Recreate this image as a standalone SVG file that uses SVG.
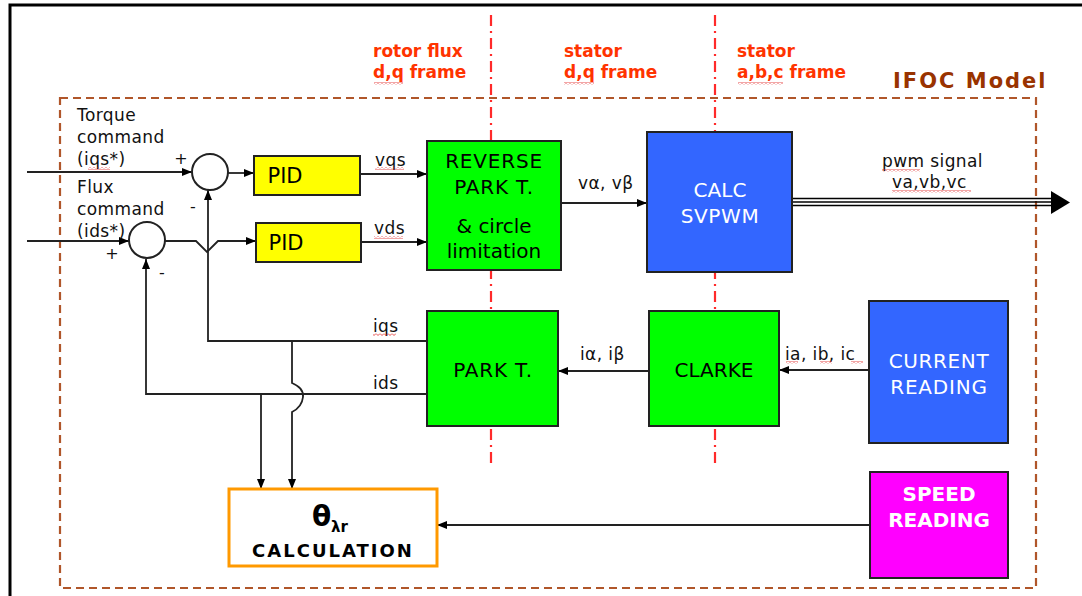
<svg xmlns="http://www.w3.org/2000/svg" width="1082" height="596" viewBox="0 0 1082 596">
<defs>
<marker id="ah" markerWidth="10" markerHeight="8" refX="10" refY="4" orient="auto" markerUnits="userSpaceOnUse">
<path d="M0,0 L10,4 L0,8 Z" fill="#000"/>
</marker>
<pattern id="wave" width="4" height="3" patternUnits="userSpaceOnUse">
<path d="M0,0.5 L2,2.5 L4,0.5" stroke="#E02020" stroke-width="0.8" fill="none"/>
</pattern>
<style>
.lbl{font-family:"DejaVu Sans",Verdana,sans-serif;font-size:17px;fill:#111;letter-spacing:0.4px}
.box{stroke:#222;stroke-width:2}
.bt{font-family:"DejaVu Sans",Verdana,sans-serif;font-size:20px;text-anchor:middle;fill:#000}
.wt{fill:#fff}
.conn{stroke:#222;stroke-width:1.8;fill:none}
.frame{font-family:"DejaVu Sans",Verdana,sans-serif;font-size:17px;font-weight:bold;fill:#FF3300}
.sq{fill:url(#wave)}
.sign{font-family:"DejaVu Sans",Verdana,sans-serif;font-size:16px;fill:#111;text-anchor:middle}
</style>
</defs>
<rect width="1082" height="596" fill="#fff"/>
<path d="M10,596 V5 H1082" stroke="#000" stroke-width="3" fill="none"/>

<!-- IFOC dashed frame -->
<g id="ifoc-frame">
<rect x="60" y="98" width="976" height="490" fill="none" stroke="#B0562A" stroke-width="2.2" stroke-dasharray="8,5"/>
<text x="893" y="88" style="font-family:'DejaVu Sans',Verdana,sans-serif;font-size:21px;font-weight:bold;fill:#993300;letter-spacing:2px">IFOC Model</text>
</g>

<!-- frame separators -->
<g id="separators" stroke="#FF2A2A" stroke-width="2.2" stroke-dasharray="11,5,2,5" fill="none">
<line x1="491" y1="15" x2="491" y2="466"/>
<line x1="715" y1="15" x2="715" y2="466"/>
</g>
<g id="frame-labels">
<text class="frame" x="373" y="57">rotor flux</text>
<text class="frame" x="373" y="78">d,q frame</text>
<text class="frame" x="564" y="57">stator</text>
<text class="frame" x="564" y="78">d,q frame</text>
<text class="frame" x="737" y="57">stator</text>
<text class="frame" x="737" y="78">a,b,c frame</text>
<rect class="sq" x="374" y="82" width="29" height="3"/>
<rect class="sq" x="564" y="82" width="30" height="3"/>
<rect class="sq" x="738" y="82" width="45" height="3"/>
</g>

<!-- connectors -->
<g id="connectors">
<line class="conn" x1="27" y1="172" x2="192" y2="172" marker-end="url(#ah)"/>
<line class="conn" x1="27" y1="241" x2="129" y2="241" marker-end="url(#ah)"/>
<line class="conn" x1="228" y1="173" x2="254" y2="173" marker-end="url(#ah)"/>
<path class="conn" d="M165,241 H196 L207,252 L218,241 H256" marker-end="url(#ah)"/>
<line class="conn" x1="360" y1="174" x2="427" y2="174" marker-end="url(#ah)"/>
<line class="conn" x1="361" y1="242" x2="427" y2="242" marker-end="url(#ah)"/>
<line class="conn" x1="561" y1="203" x2="647" y2="203" marker-end="url(#ah)"/>
<g stroke="#000" stroke-width="1.6">
<line x1="793" y1="198.5" x2="1053" y2="198.5"/>
<line x1="793" y1="202" x2="1053" y2="202"/>
<line x1="793" y1="205.5" x2="1053" y2="205.5"/>
</g>
<path d="M1051,191 L1070,202.5 L1051,214 Z" fill="#000"/>
<path class="conn" d="M427,341 H208 V190" marker-end="url(#ah)"/>
<path class="conn" d="M427,394 H146 V259" marker-end="url(#ah)"/>
<path class="conn" d="M261,394 V489" marker-end="url(#ah)"/>
<path class="conn" d="M292,341 V383 Q304,388 303,397 Q302,407 292,412 V489" marker-end="url(#ah)"/>
<line class="conn" x1="649" y1="371" x2="558" y2="371" marker-end="url(#ah)"/>
<line class="conn" x1="869" y1="370" x2="779" y2="370" marker-end="url(#ah)"/>
<line class="conn" x1="870" y1="525" x2="437" y2="525" marker-end="url(#ah)"/>
</g>

<!-- connector labels -->
<g id="labels">
<text class="lbl" x="77" y="121">Torque</text>
<text class="lbl" x="77" y="143">command</text>
<text class="lbl" x="77" y="165">(iqs*)</text>
<rect class="sq" x="88" y="167" width="22" height="3"/>
<text class="lbl" x="77" y="193">Flux</text>
<text class="lbl" x="77" y="215">command</text>
<text class="lbl" x="77" y="237">(ids*)</text>
<text class="sign" x="181" y="164">+</text>
<text class="sign" x="193" y="212">-</text>
<text class="sign" x="112" y="259">+</text>
<text class="sign" x="162" y="278">-</text>
<text class="lbl" x="375" y="166">vqs</text>
<rect class="sq" x="375" y="167" width="29" height="3"/>
<text class="lbl" x="374" y="234">vds</text>
<rect class="sq" x="374" y="236" width="29" height="3"/>
<text class="lbl" x="578" y="189">vα, vβ</text>
<text class="lbl" x="882" y="167">pwm signal</text>
<rect class="sq" x="882" y="169" width="38" height="3"/>
<text class="lbl" x="892" y="188">va,vb,vc</text>
<rect class="sq" x="892" y="190" width="79" height="3"/>
<text class="lbl" x="373" y="332">iqs</text>
<rect class="sq" x="373" y="333" width="23" height="3"/>
<text class="lbl" x="373" y="389">ids</text>
<text class="lbl" x="580" y="360">iα, iβ</text>
<text class="lbl" x="785" y="360">ia, ib, ic</text>
<rect class="sq" x="786" y="361" width="12" height="3"/>
<rect class="sq" x="820" y="361" width="12" height="3"/>
<rect class="sq" x="851" y="361" width="12" height="3"/>
</g>

<!-- nodes -->
<g id="sum-torque"><circle cx="210" cy="172" r="18" fill="#fff" stroke="#222" stroke-width="2"/></g>
<g id="sum-flux"><circle cx="147" cy="240" r="18" fill="#fff" stroke="#222" stroke-width="2"/></g>
<g id="pid-q">
<rect class="box" x="254" y="156" width="106" height="39" fill="#FFFF00"/>
<text class="bt" x="285" y="183" style="font-size:21px">PID</text>
</g>
<g id="pid-d">
<rect class="box" x="256" y="223" width="105" height="39" fill="#FFFF00"/>
<text class="bt" x="286" y="250" style="font-size:21px">PID</text>
</g>
<g id="reverse-park">
<rect class="box" x="427" y="141" width="134" height="129" fill="#00FF00"/>
<text class="bt" x="494" y="168" style="letter-spacing:0.8px">REVERSE</text>
<text class="bt" x="494" y="194" style="letter-spacing:0.8px">PARK T.</text>
<text class="bt" x="494" y="233">&amp; circle</text>
<text class="bt" x="494" y="258">limitation</text>
</g>
<g id="svpwm">
<rect class="box" x="647" y="132" width="145" height="140" fill="#3366FF"/>
<text class="bt wt" x="720" y="197">CALC</text>
<text class="bt wt" x="720" y="223" style="letter-spacing:0.6px">SVPWM</text>
</g>
<g id="park">
<rect class="box" x="427" y="311" width="131" height="115" fill="#00FF00"/>
<text class="bt" x="493" y="377" style="letter-spacing:0.8px">PARK T.</text>
</g>
<g id="clarke">
<rect class="box" x="649" y="311" width="130" height="115" fill="#00FF00"/>
<text class="bt" x="714" y="377">CLARKE</text>
</g>
<g id="current-reading">
<rect class="box" x="869" y="301" width="139" height="142" fill="#3366FF"/>
<text class="bt wt" x="939" y="368" style="letter-spacing:0.6px">CURRENT</text>
<text class="bt wt" x="939" y="394" style="letter-spacing:0.8px">READING</text>
</g>
<g id="speed-reading">
<rect class="box" x="870" y="472" width="138" height="106" fill="#FF00FF"/>
<text class="bt wt" x="939" y="501" style="font-weight:bold">SPEED</text>
<text class="bt wt" x="939" y="527" style="font-weight:bold">READING</text>
</g>
<g id="theta-calc">
<rect x="229" y="489" width="208" height="77" fill="#fff" stroke="#FF9900" stroke-width="3"/>
<text x="312" y="526" style="font-family:'DejaVu Sans',Verdana,sans-serif;font-size:28px;font-weight:bold;fill:#000">θ</text>
<text x="331" y="532" style="font-family:'DejaVu Sans',Verdana,sans-serif;font-size:15px;font-weight:bold;fill:#000">λr</text>
<text x="333" y="557" style="font-family:'DejaVu Sans',Verdana,sans-serif;font-size:18px;font-weight:bold;fill:#000;text-anchor:middle;letter-spacing:2px">CALCULATION</text>
</g>
</svg>
